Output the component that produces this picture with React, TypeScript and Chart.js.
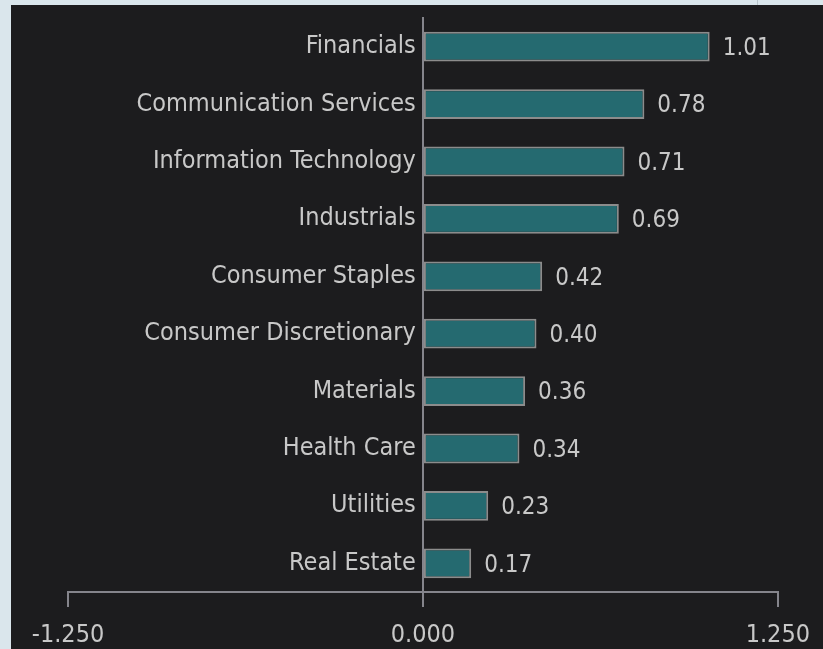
import React, { useEffect, useRef } from "react";
import { Chart, registerables } from "chart.js";

Chart.register(...registerables);

const categories = [
  "Financials",
  "Communication Services",
  "Information Technology",
  "Industrials",
  "Consumer Staples",
  "Consumer Discretionary",
  "Materials",
  "Health Care",
  "Utilities",
  "Real Estate",
];
const values = [1.01, 0.78, 0.71, 0.69, 0.42, 0.4, 0.36, 0.34, 0.23, 0.17];
const xTickValues = [-1.25, 0, 1.25];

const FONT = "'DejaVu Sans Condensed', 'Liberation Sans', sans-serif";
const TEXT = "#c8c8c8";
const AXIS = "#85858c";

const valueLabels = {
  id: "valueLabels",
  afterDatasetsDraw(chart: any) {
    const ctx = chart.ctx;
    const meta = chart.getDatasetMeta(0);
    ctx.save();
    ctx.font = `24px ${FONT}`;
    ctx.fillStyle = TEXT;
    ctx.textAlign = "left";
    ctx.textBaseline = "middle";
    meta.data.forEach((el: any, i: number) => {
      ctx.fillText(values[i].toFixed(2), el.x + 13, el.y + 2);
    });
    ctx.restore();
  },
};

export default function App() {
  const ref = useRef<HTMLCanvasElement>(null);
  useEffect(() => {
    if (!ref.current) return;
    const chart = new Chart(ref.current, {
      type: "bar",
      data: {
        labels: categories,
        datasets: [
          {
            data: values,
            backgroundColor: "#256a70",
            borderColor: "#8c8c8c",
            borderWidth: 2,
            borderSkipped: false,
            barPercentage: 0.52,
            categoryPercentage: 1,
          },
        ],
      },
      options: {
        indexAxis: "y",
        responsive: false,
        animation: false,
        layout: { padding: { left: 57, right: 40, top: 13, bottom: 0 } },
        plugins: { legend: { display: false }, tooltip: { enabled: false } },
        scales: {
          x: {
            type: "linear",
            position: "bottom",
            min: -1.25,
            max: 1.25,
            afterBuildTicks: (s: any) => {
              s.ticks = xTickValues.map((v) => ({ value: v }));
            },
            afterFit: (s: any) => {
              s.height = 57;
            },
            grid: {
              drawOnChartArea: false,
              drawTicks: true,
              tickLength: 15,
              color: AXIS,
              lineWidth: 2,
            },
            border: { display: true, color: AXIS, width: 2 },
            ticks: {
              padding: 13,
              color: TEXT,
              font: { family: FONT, size: 25 },
              maxRotation: 0,
              autoSkip: false,
              callback: (v: any) => Number(v).toFixed(3),
            },
          },
          y: {
            type: "category",
            position: { x: 0 } as any,
            afterFit: (s: any) => {
              s.paddingTop = 0;
              s.paddingBottom = 0;
            },
            grid: { display: false, drawTicks: false },
            border: { display: true, color: AXIS, width: 2 },
            ticks: {
              padding: 0,
              color: TEXT,
              font: { family: FONT, size: 25 },
              autoSkip: false,
              callback: function (this: any, v: any) {
                return this.getLabelForValue(v) + " ";
              },
            },
          },
        },
      },
      plugins: [valueLabels],
    });
    return () => chart.destroy();
  }, []);

  return (
    <div
      style={{
        position: "fixed",
        left: 0,
        top: 0,
        width: 823,
        height: 649,
        background: "#dae6ec",
        overflow: "hidden",
      }}
    >
      <div
        style={{
          position: "absolute",
          left: 757,
          top: 0,
          width: 1,
          height: 5,
          background: "#b8c5cb",
        }}
      />
      <div
        style={{
          position: "absolute",
          left: 11,
          top: 5,
          width: 812,
          height: 644,
          background: "#1c1c1e",
        }}
      >
        <canvas ref={ref} width={812} height={644} style={{ display: "block" }} />
      </div>
    </div>
  );
}
